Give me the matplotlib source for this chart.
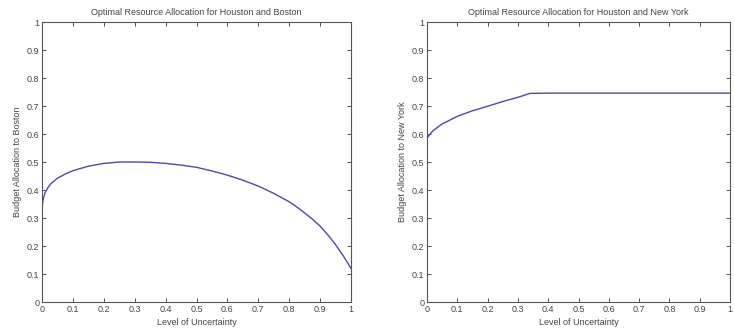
import matplotlib.pyplot as plt
import numpy as np

plt.rcParams['font.family'] = 'Liberation Sans'
plt.rcParams['font.size'] = 6.5

uncertainty = [0.0, 0.002, 0.005, 0.01, 0.02, 0.03, 0.05, 0.075, 0.1, 0.15, 0.2, 0.25, 0.3,
               0.35, 0.4, 0.45, 0.5, 0.55, 0.6, 0.65, 0.7, 0.75, 0.8, 0.825, 0.85, 0.875,
               0.9, 0.925, 0.95, 0.975, 1.0]
boston = [0.33, 0.355, 0.372, 0.39, 0.41, 0.424, 0.442, 0.457, 0.469, 0.485, 0.495, 0.5, 0.5,
          0.499, 0.495, 0.489, 0.481, 0.468, 0.453, 0.435, 0.414, 0.388, 0.358, 0.339, 0.318,
          0.296, 0.271, 0.24, 0.205, 0.165, 0.12]

uncertainty_ny = [0.0, 0.01, 0.02, 0.05, 0.1, 0.15, 0.2, 0.25, 0.3, 0.34, 0.4, 0.6, 0.8, 1.0]
new_york = [0.585, 0.6, 0.612, 0.636, 0.663, 0.683, 0.699, 0.716, 0.731, 0.745, 0.746,
            0.746, 0.746, 0.746]

ticks = np.round(np.arange(0, 1.01, 0.1), 1)
tick_labels = ['0', '0.1', '0.2', '0.3', '0.4', '0.5', '0.6', '0.7', '0.8', '0.9', '1']

line_color = '#4b4ba6'

fig = plt.figure(figsize=(7.35, 3.29), dpi=100)
ax1 = fig.add_axes([42 / 735, 27 / 329, 309 / 735, 280 / 329])
ax2 = fig.add_axes([427 / 735, 27 / 329, 303 / 735, 280 / 329])

panels = [
    (ax1, uncertainty, boston, 'Optimal Resource Allocation for Houston and Boston',
     'Budget Allocation to Boston'),
    (ax2, uncertainty_ny, new_york, 'Optimal Resource Allocation for Houston and New York',
     'Budget Allocation to New York'),
]

for ax, x, y, title, ylabel in panels:
    ax.plot(x, y, color=line_color, linewidth=1)
    ax.set_xlim(0, 1)
    ax.set_ylim(0, 1)
    ax.set_xticks(ticks)
    ax.set_xticklabels(tick_labels)
    ax.set_yticks(ticks)
    ax.set_yticklabels(tick_labels)
    ax.tick_params(direction='in', length=3, width=0.6, top=True, right=True,
                   colors='#333333', labelcolor='#444444', pad=2)
    for s in ax.spines.values():
        s.set_color('#555555')
        s.set_linewidth(0.8)
    ax.set_title(title, fontsize=6.5, color='#444444', pad=5)
    ax.set_xlabel('Level of Uncertainty', fontsize=6.5, color='#444444', labelpad=3)
    ax.set_ylabel(ylabel, fontsize=6.5, color='#444444', labelpad=3)

fig.savefig('out.png', dpi=100)
